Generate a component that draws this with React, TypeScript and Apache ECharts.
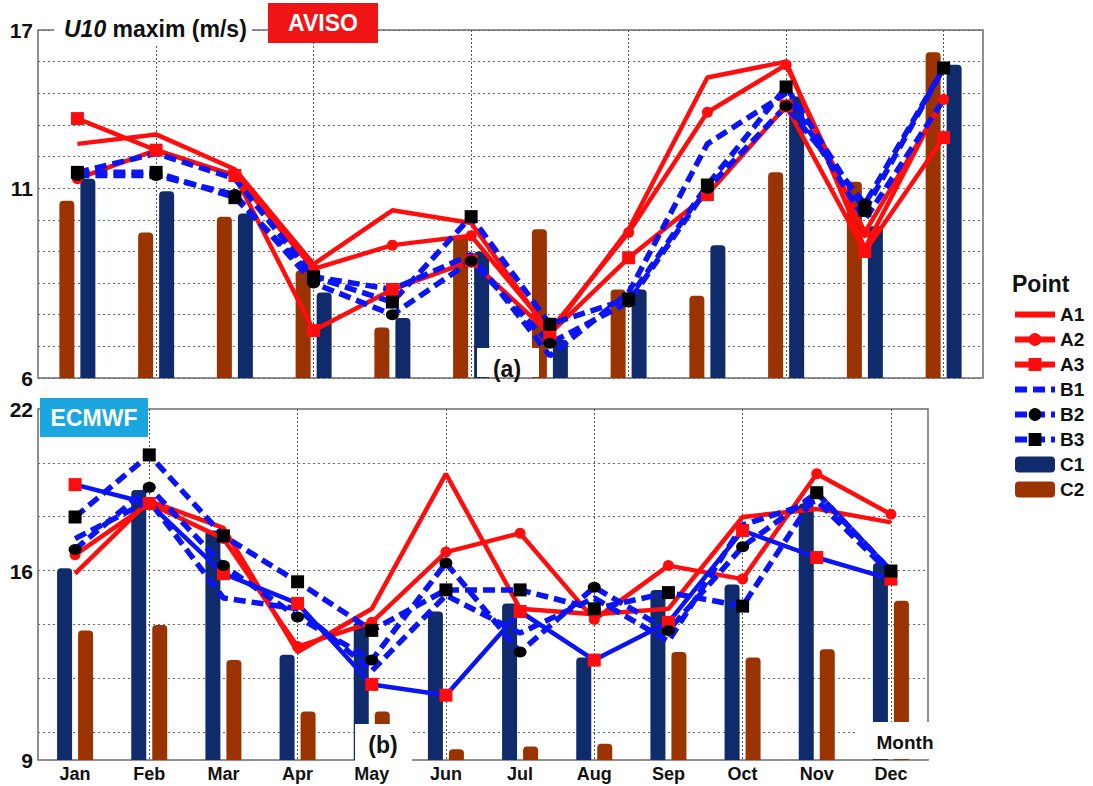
import { useEffect, useRef } from 'react';
import * as echarts from 'echarts';

const FONT = 'Arial, "Liberation Sans", sans-serif';
const RED = '#ff0d0d';
const BLUE = '#0a14f5';
const NAVY = '#0f2b6b';
const BROWN = '#9a3300';

const months = ['Jan', 'Feb', 'Mar', 'Apr', 'May', 'Jun', 'Jul', 'Aug', 'Sep', 'Oct', 'Nov', 'Dec'];
const legendNames = ['A1', 'A2', 'A3', 'B1', 'B2', 'B3', 'C1', 'C2'];
const plainLines = ['A1', 'B1'];

// (a) AVISO
const avisoA1 = [13.4, 13.7, 12.6, 9.6, 11.3, 10.9, 7.4, 10.7, 15.5, 16.0, 10.1, 14.9];
const avisoA2 = [12.3, 13.2, 12.4, 9.45, 10.2, 10.5, 7.5, 10.6, 14.4, 15.9, 10.6, 14.8];
const avisoA3 = [14.2, 13.2, 12.4, 7.5, 8.8, 9.7, 7.4, 9.8, 11.8, 14.6, 10.0, 13.6];
const avisoB1 = [12.5, 13.1, 12.3, 9.2, 8.8, 9.9, 6.7, 8.7, 13.4, 15.0, 11.0, 14.8];
const avisoB2 = [12.4, 12.4, 11.8, 9.0, 8.0, 9.7, 7.1, 8.4, 12.0, 14.6, 11.5, 15.8];
const avisoB3 = [12.5, 12.5, 11.7, 9.2, 8.4, 11.1, 7.7, 8.5, 12.1, 15.2, 11.3, 15.8];
const avisoC1 = [12.3, 11.9, 11.2, 8.7, 7.9, 10.0, 7.2, 8.8, 10.2, 14.9, 10.8, 15.9];
const avisoC2 = [11.6, 10.6, 11.1, 9.4, 7.6, 10.5, 10.7, 8.8, 8.6, 12.5, 12.2, 16.3];

// (b) ECMWF
const ecmwfA1 = [15.9, 18.6, 17.6, 13.0, 14.6, 19.6, 14.6, 14.4, 14.6, 18.0, 18.3, 17.8];
const ecmwfA2 = [16.6, 18.5, 17.2, 13.2, 14.1, 16.7, 17.4, 14.2, 16.2, 15.7, 19.6, 18.1];
const ecmwfA3 = [19.2, 18.5, 15.9, 14.8, 11.8, 11.4, 14.5, 12.7, 14.1, 17.5, 16.5, 15.7];
const ecmwfB1 = [17.2, 18.6, 15.0, 14.6, 12.3, 15.1, 13.7, 15.0, 13.4, 17.7, 18.6, 15.9];
const ecmwfB2 = [16.8, 19.1, 16.2, 14.3, 12.7, 16.3, 13.0, 15.4, 13.8, 16.9, 18.9, 16.0];
const ecmwfB3 = [18.0, 20.3, 17.3, 15.6, 13.8, 15.3, 15.3, 14.6, 15.2, 14.7, 18.9, 16.0];
const ecmwfC1 = [16.1, 19.0, 17.5, 12.9, 14.1, 14.5, 14.8, 12.8, 15.3, 15.5, 18.5, 16.3];
const ecmwfC2 = [13.8, 14.0, 12.7, 10.8, 10.8, 9.4, 9.5, 9.6, 13.0, 12.8, 13.1, 14.9];

// tick labels as printed in the source figure
const avisoTickValues = [6, 12, 17];
const avisoTickLabels = ['6', '11', '17'];
const ecmwfTickValues = [9, 16, 22];
const ecmwfTickLabels = ['9', '16', '22'];

const gridLine = { color: '#6a6a6a', type: [2, 3] as number[], width: 1 };
const dashed = [12, 6];

function labelFrom(values: number[], labels: string[]) {
  return (v: number) => {
    const i = values.indexOf(v);
    return i >= 0 ? labels[i] : '';
  };
}

function line(name: string, data: number[], panel: number, kind: string, lineColor?: string) {
  const isB = kind.startsWith('B');
  const mark = isB ? '#000' : RED;
  let symbol = 'none';
  let symbolSize: number | number[] = 0;
  if (kind.endsWith('2')) {
    symbol = 'circle';
    symbolSize = isB ? [13, 11] : 11;
  } else if (kind.endsWith('3')) {
    symbol = 'rect';
    symbolSize = 13;
  }
  return {
    type: 'line',
    name,
    xAxisIndex: panel,
    yAxisIndex: panel,
    data,
    symbol,
    symbolSize,
    showSymbol: symbol !== 'none',
    z: 3,
    lineStyle: {
      color: lineColor || (isB ? BLUE : RED),
      width: isB ? 5.5 : 4.5,
      type: isB ? dashed : 'solid',
    },
    itemStyle: { color: mark, borderWidth: 0 },
  };
}

function bar(name: string, data: number[], panel: number, color: string) {
  return {
    type: 'bar',
    name,
    xAxisIndex: panel,
    yAxisIndex: panel,
    data,
    barWidth: 15,
    barGap: '40%',
    z: 1,
    itemStyle: { color, borderRadius: [4, 4, 0, 0] },
  };
}

function boxText(x: number, y: number, text: string, size: number, color = '#111') {
  return {
    type: 'text',
    x,
    y,
    z: 101,
    style: {
      text,
      fill: color,
      font: `bold ${size}px ${FONT}`,
      align: 'center',
      verticalAlign: 'middle',
    },
  };
}

function boxRect(x: number, y: number, width: number, height: number, fill = '#fff') {
  return { type: 'rect', z: 100, shape: { x, y, width, height }, style: { fill } };
}

export default function App() {
  const chartRef = useRef<HTMLDivElement>(null);

  useEffect(() => {
    if (!chartRef.current) return;
    const chart = echarts.init(chartRef.current, null, { renderer: 'svg' });

    const catAxis = (gridIndex: number, showLabels: boolean) => ({
      gridIndex,
      type: 'category',
      data: months,
      axisLine: { show: false },
      axisTick: { show: false },
      axisLabel: {
        show: showLabels,
        fontFamily: FONT,
        fontWeight: 'bold',
        fontSize: 18,
        color: '#111',
        margin: 5,
      },
      splitLine: {
        show: true,
        alignWithLabel: true,
        interval: (i: number) => i % 2 === 1,
        lineStyle: { color: '#555', type: [2, 2], width: 1 },
      },
    });

    const yLabel = {
      fontFamily: FONT,
      fontWeight: 'bold',
      fontSize: 21,
      color: '#111',
      margin: 5,
    };

    const option = {
      animation: false,
      backgroundColor: '#fff',
      grid: [
        { left: 38, top: 30, width: 945, height: 348, show: true, borderColor: '#6e6e6e', borderWidth: 1.5 },
        { left: 38, top: 409, width: 890, height: 351, show: true, borderColor: '#6e6e6e', borderWidth: 1.5 },
        { left: 38, top: 409, width: 890, height: 378 },
      ],
      xAxis: [catAxis(0, false), catAxis(1, true), { gridIndex: 2, type: 'value', show: false }],
      yAxis: [
        {
          gridIndex: 0,
          type: 'value',
          min: 6,
          max: 17,
          interval: 1,
          axisLine: { show: false },
          axisTick: { show: false },
          axisLabel: { ...yLabel, formatter: labelFrom(avisoTickValues, avisoTickLabels) },
          splitLine: { show: true, lineStyle: gridLine },
        },
        {
          gridIndex: 1,
          type: 'value',
          min: 9,
          max: 22,
          interval: 1,
          axisLine: { show: false },
          axisTick: { show: false },
          axisLabel: { ...yLabel, formatter: labelFrom(ecmwfTickValues, ecmwfTickLabels) },
          splitLine: { show: false },
        },
        {
          gridIndex: 2,
          type: 'value',
          min: 8,
          max: 22,
          interval: 2,
          axisLine: { show: false },
          axisTick: { show: false },
          axisLabel: { show: false },
          splitLine: { show: true, showMinLine: false, showMaxLine: false, lineStyle: gridLine },
        },
      ],
      legend: {
        data: legendNames.map((name) =>
          plainLines.includes(name) ? { name, itemStyle: { color: 'rgba(0,0,0,0)' } } : { name }
        ),
        orient: 'vertical',
        left: 1007,
        top: 300,
        itemWidth: 40,
        itemHeight: 16,
        itemGap: 6,
        selectedMode: false,
        lineStyle: { width: 6 },
        textStyle: { fontFamily: FONT, fontWeight: 'bold', fontSize: 19, color: '#111' },
      },
      series: [
        bar('C2', avisoC2, 0, BROWN),
        bar('C1', avisoC1, 0, NAVY),
        line('A1', avisoA1, 0, 'A1'),
        line('A2', avisoA2, 0, 'A2'),
        line('A3', avisoA3, 0, 'A3'),
        line('B1', avisoB1, 0, 'B1'),
        line('B2', avisoB2, 0, 'B2'),
        line('B3', avisoB3, 0, 'B3'),
        bar('C1', ecmwfC1, 1, NAVY),
        bar('C2', ecmwfC2, 1, BROWN),
        line('A1', ecmwfA1, 1, 'A1'),
        line('A2', ecmwfA2, 1, 'A2'),
        line('A3', ecmwfA3, 1, 'A3', BLUE),
        line('B1', ecmwfB1, 1, 'B1'),
        line('B2', ecmwfB2, 1, 'B2'),
        line('B3', ecmwfB3, 1, 'B3'),
      ],
      graphic: [
        boxRect(54, 12, 198, 34),
        {
          type: 'text',
          x: 64,
          y: 29,
          z: 101,
          style: {
            text: '{i|U10}{b| maxim (m/s)}',
            verticalAlign: 'middle',
            rich: {
              i: { fontFamily: FONT, fontStyle: 'italic', fontWeight: 'bold', fontSize: 23, fill: '#111' },
              b: { fontFamily: FONT, fontWeight: 'bold', fontSize: 23, fill: '#111' },
            },
          },
        },
        boxRect(268, 3, 110, 40, '#f01414'),
        boxText(323, 23, 'AVISO', 23, '#fff'),
        boxRect(40, 398, 108, 39, '#1ba6df'),
        boxText(94, 418, 'ECMWF', 23, '#fff'),
        boxRect(477, 348, 62, 29),
        boxText(507, 369, '(a)', 23),
        boxRect(355, 724, 57, 38),
        boxText(383, 745, '(b)', 23),
        boxRect(858, 722, 80, 37),
        boxText(905, 742, 'Month', 19),
        {
          type: 'text',
          x: 1012,
          y: 284,
          z: 101,
          style: { text: 'Point', fill: '#111', font: `bold 23px ${FONT}`, verticalAlign: 'middle' },
        },
      ],
    };

    chart.setOption(option);
    return () => chart.dispose();
  }, []);

  return (
    <div
      ref={chartRef}
      style={{ position: 'fixed', left: 0, top: 0, width: 1093, height: 786, background: '#fff' }}
    />
  );
}
